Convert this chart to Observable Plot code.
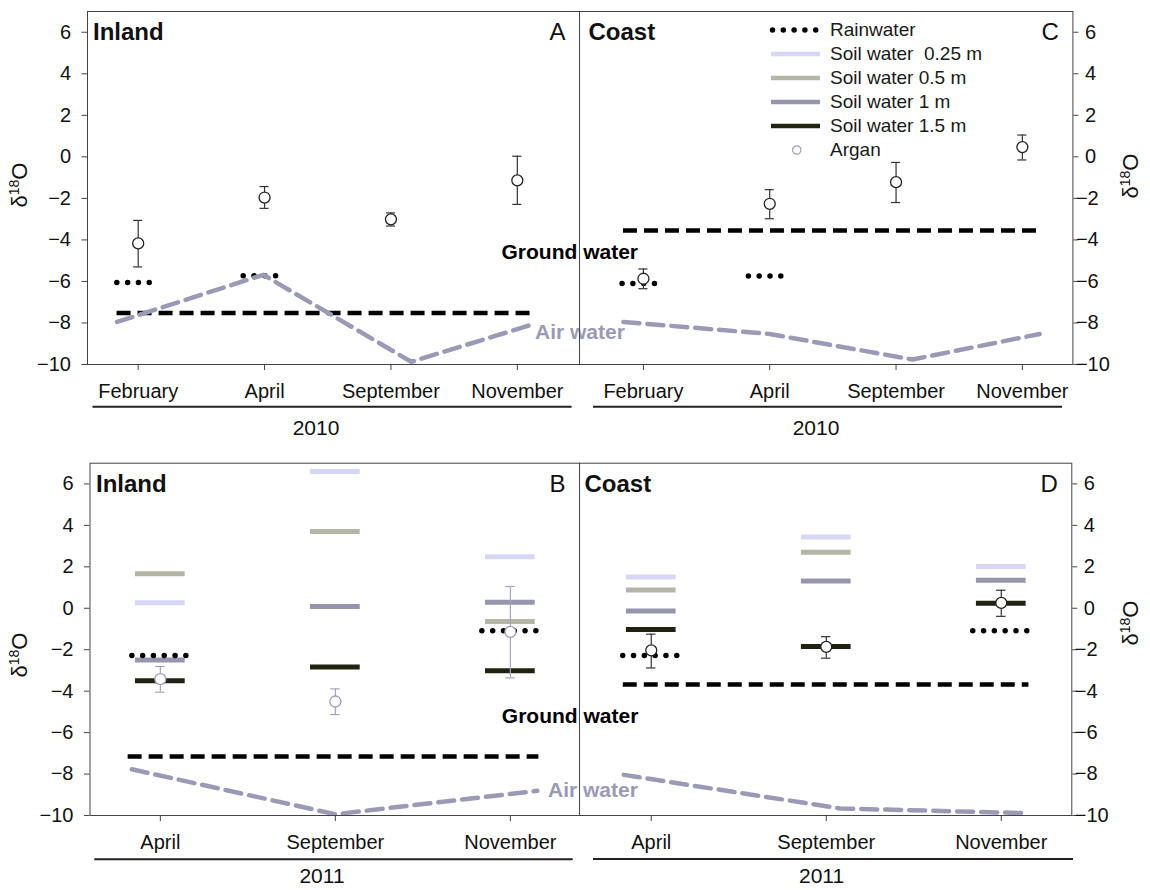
<!DOCTYPE html>
<html><head><meta charset="utf-8">
<script src="https://cdn.jsdelivr.net/npm/d3@7"></script>
<script src="https://cdn.jsdelivr.net/npm/@observablehq/plot@0.6"></script>
<style>
body{margin:0;background:#fff;font-family:"Liberation Sans",Arial,sans-serif;}
#wrap{position:relative;width:1150px;height:890px;overflow:hidden;background:#fff;}
#wrap > svg{position:absolute;overflow:visible;background:transparent;}
#legend{position:absolute;left:771px;top:18px;font-size:19px;color:#1a1a1a;}
.row{display:flex;align-items:center;height:24px;white-space:pre;}
.row svg{width:49px;height:24px;margin-right:10px;flex:none;overflow:visible;}
</style></head><body><div id="wrap"></div>
<script>
// ---------- data ----------
const monthsTop = ["February","April","September","November"];
const monthsBottom = ["April","September","November"];
const yTicks = [-10,-8,-6,-4,-2,0,2,4,6];
const seriesNames = ["Rainwater","Soil water  0.25 m","Soil water 0.5 m","Soil water 1 m","Soil water 1.5 m","Argan"];
const soilColors = ["#d6d6f6","#b5b5a6","#9595ae","#222211"];
const airColor = "#9a9ab6";

// Panel A : Inland 2010
const arganA = [-4.17,-1.96,-3.01,-1.13];
const arganAhi = [-3.06,-1.43,-2.70,0.03];
const arganAlo = [-5.30,-2.48,-3.33,-2.29];
const rainA = [-6.05,-5.72,null,null];
const groundA = -7.52;
const groundAspan = [-0.167,3.14];
const airAx = [-0.167,0.99,2.16,3.126];
const airAy = [-7.95,-5.68,-9.87,-8.06];

// Panel C : Coast 2010
const arganC = [-5.87,-2.26,-1.22,0.47];
const arganChi = [-5.40,-1.58,-0.27,1.05];
const arganClo = [-6.35,-2.98,-2.20,-0.15];
const rainC = [-6.10,-5.74,null,null];
const groundC = -3.55;
const groundCspan = [-0.158,3.137];
const airCx = [-0.158,1.0,2.13,3.137];
const airCy = [-7.95,-8.53,-9.76,-8.53];

// Panel B : Inland 2011
const soil025B = [0.27,6.60,2.48];
const soil05B = [1.66,3.71,-0.64];
const soil1B = [-2.50,0.08,0.29];
const soil15B = [-3.50,-2.83,-3.02];
const rainB = [-2.28,null,-1.09];
const arganB = [-3.42,-4.50,-1.14];
const arganBhi = [-2.81,-3.89,1.05];
const arganBlo = [-4.05,-5.13,-3.36];
const groundB = -7.15;
const groundBspan = [-0.184,2.163];
const airBx = [-0.163,1.0,2.154];
const airBy = [-7.77,-9.94,-8.81];

// Panel D : Coast 2011
const soil025D = [1.51,3.44,2.01];
const soil05D = [0.88,2.70,null];
const soil1D = [-0.13,1.32,1.35];
const soil15D = [-1.03,-1.85,0.24];
const rainD = [-2.28,null,-1.08];
const arganD = [-2.03,-1.86,0.26];
const arganDhi = [-1.25,-1.37,0.87];
const arganDlo = [-2.88,-2.41,-0.39];
const groundD = -3.68;
const groundDspan = [-0.16,2.158];
const airDx = [-0.157,1.08,2.158];
const airDy = [-8.04,-9.66,-9.89];

// ---------- helpers ----------
const fmt = d => d < 0 ? "\u2212" + Math.abs(d) : String(d);
const wrap = document.getElementById("wrap");
const TICK_FS = 20;

function panel(c) {
  const marks = [];
  const pts = arr => arr.map((v,i)=>({m:i, v})).filter(d => d.v != null);
  (c.soil || []).forEach((s,k) => {
    marks.push(Plot.ruleY(pts(s), {y:"v", x1:d=>d.m-c.soilHalf, x2:d=>d.m+c.soilHalf, stroke: soilColors[k], strokeWidth:5}));
  });
  marks.push(Plot.ruleY(pts(c.rain), {y:"v", x1:d=>d.m+c.rainSpan[0], x2:d=>d.m+c.rainSpan[1], stroke:"#000", strokeWidth:5.5, strokeDasharray:"0 10.8", strokeLinecap:"round"}));
  marks.push(Plot.ruleY([{v:c.ground, a:c.groundSpan[0], b:c.groundSpan[1]}], {y:"v", x1:"a", x2:"b", stroke:"#000", strokeWidth:4.5, strokeDasharray:"14 7"}));
  marks.push(Plot.line(c.airX.map((x,i)=>({x, y:c.airY[i]})), {x:"x", y:"y", stroke:airColor, strokeWidth:4.5, strokeDasharray:"16 8"}));
  const ad = c.argan.map((v,i)=>({m:i, mean:v, hi:c.arganHi[i], lo:c.arganLo[i]}));
  marks.push(Plot.ruleX(ad, {x:"m", y1:"lo", y2:"hi", stroke:c.errColor, strokeWidth:1.2}));
  marks.push(Plot.ruleY(ad, {y:"hi", x1:d=>d.m-c.cap, x2:d=>d.m+c.cap, stroke:c.errColor, strokeWidth:1.2}));
  marks.push(Plot.ruleY(ad, {y:"lo", x1:d=>d.m-c.cap, x2:d=>d.m+c.cap, stroke:c.errColor, strokeWidth:1.2}));
  marks.push(Plot.dot(ad, {x:"m", y:"mean", r:5.5, fill:"white", stroke:c.dotColor, strokeWidth:1.3}));
  if (c.labels) {
    marks.push(Plot.text(c.labels, {x:"x", y:"y", text:"t", fill:"c", textAnchor:"start", lineAnchor:"middle", fontSize:21, fontWeight:"bold"}));
  }
  marks.push(Plot.frame({stroke:"#444", strokeWidth:1}));
  marks.push(Plot.axisX({ticks:c.months.map((_,i)=>i), tickFormat:i=>c.months[i], tickSize:6, tickPadding:13, fontSize:TICK_FS, label:null, stroke:"#444", fill:"#111"}));
  if (c.anchor === "left") {
    marks.push(Plot.axisY({anchor:"left", ticks:yTicks, tickSize:5.5, tickPadding:11, tickFormat:fmt, fontSize:TICK_FS, label:null, stroke:"#444", fill:"#111"}));
  } else {
    marks.push(Plot.axisY({anchor:"right", ticks:yTicks, tickSize:5, tickFormat:()=>"", label:null, stroke:"#444"}));
    marks.push(Plot.text(yTicks.filter(d=>d>=0), {y:d=>d, text:fmt, frameAnchor:"right", textAnchor:"start", dx:12, fontSize:TICK_FS, fill:"#111"}));
    marks.push(Plot.text(yTicks.filter(d=>d<0), {y:d=>d, text:fmt, frameAnchor:"right", textAnchor:"start", dx:3, fontSize:TICK_FS, fill:"#111"}));
  }
  marks.push(Plot.text([c.title], {frameAnchor:"top-left", dx:c.titleDx, dy:21, textAnchor:"start", lineAnchor:"middle", fontSize:24, fontWeight:"bold", fill:"#111"}));
  marks.push(Plot.text([c.letter], {frameAnchor:"top-right", dx:-14, dy:21, textAnchor:"end", lineAnchor:"middle", fontSize:24, fill:"#111"}));

  const svg = Plot.plot({
    width:c.width, height:c.height,
    marginLeft:c.mL, marginRight:c.mR, marginTop:c.mT, marginBottom:c.mB,
    x:{domain:c.xDomain, axis:null},
    y:{domain:[-10,7], axis:null},
    style:{fontFamily:'"Liberation Sans", Arial, sans-serif', overflow:"visible", background:"transparent", maxWidth:"none"},
    marks
  });
  svg.style.left = c.left + "px";
  svg.style.top = c.top + "px";
  const s = d3.select(svg);
  const t = s.append("text")
    .attr("transform", `translate(${c.yl[0]},${c.yl[1]}) rotate(-90)`)
    .attr("text-anchor","middle").attr("font-size",22).attr("fill","#111");
  t.append("tspan").text("\u03B4");
  t.append("tspan").attr("font-size",14).attr("dy",-8).text("18");
  t.append("tspan").attr("dy",8).text("O");
  s.append("line").attr("x1",c.ul[0]).attr("x2",c.ul[1]).attr("y1",c.ul[2]).attr("y2",c.ul[2])
    .attr("stroke","#222").attr("stroke-width",2);
  s.append("text").attr("x",c.yr[0]).attr("y",c.yr[1]).attr("dy","0.35em").attr("text-anchor","middle")
    .attr("font-size",21).attr("fill","#111").text(c.year);
  wrap.appendChild(svg);
}

panel({left:0, top:0, width:579, height:450, mL:87, mR:0, mT:11, mB:86,
  xDomain:[-0.401,3.492], months:monthsTop, anchor:"left", title:"Inland", letter:"A", titleDx:5.5,
  soil:[], rain:rainA, rainSpan:[-0.165,0.115], ground:groundA, groundSpan:groundAspan,
  airX:airAx, airY:airAy, argan:arganA, arganHi:arganAhi, arganLo:arganAlo, cap:0.036,
  errColor:"#333", dotColor:"#222",
  labels:[{x:2.875, y:-4.6, t:"Ground water", c:"#000"},{x:3.14, y:-8.43, t:"Air water", c:airColor}],
  yl:[27,185], ul:[92.5,571.6,406.7], yr:[316,428], year:"2010"});

panel({left:579, top:0, width:571, height:450, mL:0, mR:77.6, mT:11, mB:86,
  xDomain:[-0.506,3.400], months:monthsTop, anchor:"right", title:"Coast", letter:"C", titleDx:9,
  soil:[], rain:rainC, rainSpan:[-0.165,0.115], ground:groundC, groundSpan:groundCspan,
  airX:airCx, airY:airCy, argan:arganC, arganHi:arganChi, arganLo:arganClo, cap:0.036,
  errColor:"#333", dotColor:"#222",
  yl:[559,176], ul:[14,483,406.7], yr:[237,428], year:"2010"});

panel({left:0, top:450, width:579, height:440, mL:89.5, mR:0, mT:12.7, mB:75,
  xDomain:[-0.402,2.395], months:monthsBottom, anchor:"left", title:"Inland", letter:"B", titleDx:6,
  soil:[soil025B,soil05B,soil1B,soil15B], soilHalf:0.142, rain:rainB, rainSpan:[-0.16,0.155], ground:groundB, groundSpan:groundBspan,
  airX:airBx, airY:airBy, argan:arganB, arganHi:arganBhi, arganLo:arganBlo, cap:0.027,
  errColor:"#a4a4c2", dotColor:"#9c9cbc",
  labels:[{x:1.951, y:-5.2, t:"Ground water", c:"#000"},{x:2.215, y:-8.78, t:"Air water", c:airColor}],
  yl:[27,205], ul:[94.3,572.7,409.3], yr:[322,426], year:"2011"});

panel({left:579, top:450, width:571, height:440, mL:0, mR:78.7, mT:12.7, mB:75,
  xDomain:[-0.41,2.403], months:monthsBottom, anchor:"right", title:"Coast", letter:"D", titleDx:5,
  soil:[soil025D,soil05D,soil1D,soil15D], soilHalf:0.142, rain:rainD, rainSpan:[-0.16,0.155], ground:groundD, groundSpan:groundDspan,
  airX:airDx, airY:airDy, argan:arganD, arganHi:arganDhi, arganLo:arganDlo, cap:0.027,
  errColor:"#333", dotColor:"#222",
  yl:[559,173], ul:[14,494,409], yr:[242.6,426], year:"2011"});

// ---------- legend ----------
const leg = document.createElement("div");
leg.id = "legend";
const ns = "http://www.w3.org/2000/svg";
seriesNames.forEach((name,i) => {
  const row = document.createElement("div");
  row.className = "row";
  const sv = document.createElementNS(ns,"svg");
  if (i === 0) {
    sv.innerHTML = `<line x1="1.5" x2="48" y1="12" y2="12" stroke="#000" stroke-width="5.5" stroke-dasharray="0 10.8" stroke-linecap="round"/>`;
  } else if (i <= 4) {
    sv.innerHTML = `<line x1="0" x2="49" y1="12" y2="12" stroke="${soilColors[i-1]}" stroke-width="4.5"/>`;
  } else {
    sv.innerHTML = `<circle cx="25.7" cy="12" r="4.2" fill="white" stroke="#9c9cbc" stroke-width="1.2"/>`;
  }
  row.appendChild(sv);
  const sp = document.createElement("span");
  sp.textContent = name;
  row.appendChild(sp);
  leg.appendChild(row);
});
wrap.appendChild(leg);
</script></body></html>
